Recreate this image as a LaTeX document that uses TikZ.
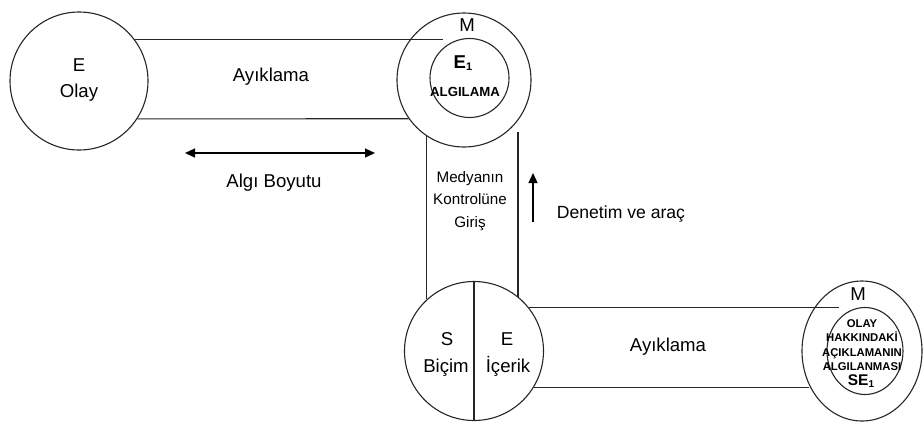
\documentclass[tikz,border=0pt]{standalone}
\usepackage{fontspec}
\setmainfont{Liberation Sans}
\usetikzlibrary{arrows.meta,shapes.geometric}
\begin{document}
\begin{tikzpicture}[x=1pt,y=-1pt,
  ln/.style={line width=1.1pt, draw=black!85},
  ring/.style={circle, ln, inner sep=0pt},
  ellring/.style={ellipse, ln, inner sep=0pt},
  lbl/.style={inner sep=0pt, font=\fontsize{18.6}{21}\selectfont, text height=13.3pt, text depth=0pt},
  blbl/.style={inner sep=0pt, font=\bfseries\fontsize{13.2}{15}\selectfont, text height=9.5pt, text depth=0pt},
  arr/.style={line width=1.3pt, draw=black, -{Triangle[length=10pt,width=9pt]}},
  darr/.style={line width=1.3pt, draw=black, {Triangle[length=10pt,width=9pt]}-{Triangle[length=10pt,width=9pt]}}]
\useasboundingbox (0,0) rectangle (924,424);
% circles
\node[ring, minimum size=138pt] (E) at (79,81) {};
\node[ring, minimum size=134pt] (Mo) at (464,80) {};
\node[ring, minimum size=79pt] (Mi) at (469.5,78) {};
\node[ring, minimum size=139pt] (SE) at (474,351) {};
\node[ellring, minimum width=120pt, minimum height=140pt] (Ro) at (862,351) {};
\node[ellring, minimum width=76pt, minimum height=87pt] (Ri) at (865,351) {};
\draw[ln] (SE.north) -- (SE.south);
% band ends
\coordinate (t1) at (443,39);
\coordinate (vr) at (518,132);
\coordinate (t2) at (839,308);
\coordinate (b2) at (809,387);
% bands
\draw[ln] (E.37.5) -- (E.37.5 -| t1);
\draw[ln] (E.-33.4) -- (Mo.215.6);
\draw[ln] (Mo.236.5) -- (Mo.236.5 |- SE.132.5);
\draw[ln] (vr) -- (vr |- SE.50.7);
\draw[ln] (SE.38.2) -- (SE.38.2 -| t2);
\draw[ln] (SE.-31.2) -- (SE.-31.2 -| b2);
% arrows
\coordinate (da1) at (185,153);
\coordinate (da2) at (375,153);
\draw[darr] (da1) -- (da2);
\coordinate (ua1) at (533,222);
\coordinate (ua2) at (533,173);
\draw[arr] (ua1) -- (ua2);
% labels
\node[lbl] (lE) at (79,65) {E};
\node[lbl] (lOlay) at (79,91) {Olay};
\node[lbl] (lAy1) at (271,75) {Ayıklama};
\node[lbl] (lAlgi) at (274,181) {Algı Boyutu};
\node[lbl] (lM1) at (467,25) {M};
\node[inner sep=0pt, font=\bfseries\fontsize{18.6}{21}\selectfont, text height=13.3pt, text depth=0pt] (lE1) at (463,62) {E{\fontsize{11}{11}\selectfont\raisebox{-2pt}{1}}};
\node[blbl] (lAlg) at (465,92) {ALGILAMA};
\node[inner sep=0pt, align=center, font=\fontsize{15.2}{22.5}\selectfont] (lMed) at (470,201) {Medyanın\\Kontrolüne\\Giriş};
\node[lbl, font=\fontsize{17.6}{21}\selectfont] (lDen) at (621,212) {Denetim ve araç};
\node[lbl] (lS) at (447,339) {S};
\node[lbl] (lBic) at (446,366) {Biçim};
\node[lbl] (lE2) at (507,339) {E};
\node[lbl] (lIc) at (508,366) {İçerik};
\node[lbl] (lAy2) at (668,345) {Ayıklama};
\node[lbl] (lM2) at (858,294) {M};
\node[inner sep=0pt, align=center, font=\bfseries\fontsize{11.3}{14.3}\selectfont] (lOlay2) at (862,345) {OLAY\\HAKKINDAKİ\\AÇIKLAMANIN\\ALGILANMASI};
\node[inner sep=0pt, font=\bfseries\fontsize{15.5}{17}\selectfont, text height=11.1pt, text depth=0pt] (lSE1) at (861,380) {SE{\fontsize{10}{10}\selectfont\raisebox{-1.5pt}{1}}};
\end{tikzpicture}
\end{document}
